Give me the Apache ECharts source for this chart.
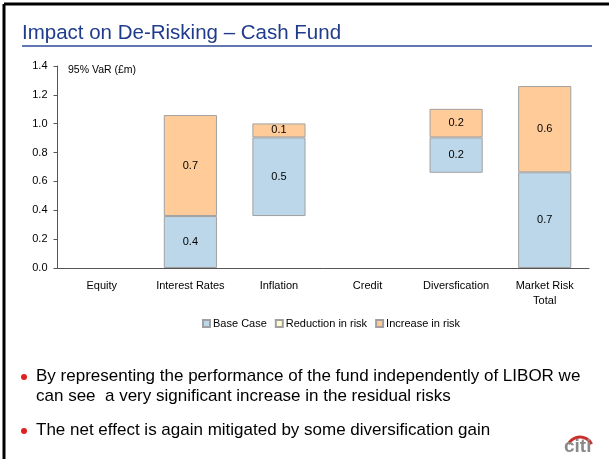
<!DOCTYPE html>
<html><head><meta charset="utf-8">
<script src="https://cdn.jsdelivr.net/npm/echarts@6/dist/echarts.min.js"></script>
<style>html,body{margin:0;padding:0;background:#fff}#c{width:609px;height:459px}</style>
</head><body><div id="c"></div>
<script>
const categories = ['Equity', 'Interest Rates', 'Inflation', 'Credit', 'Diversfication', 'Market Risk\nTotal'];
const offsetValues = [null, 0, 0.36, null, 0.66, 0];
const baseCase = [null, 0.36, 0.545, null, 0.245, 0.663];
const reduction = [null, null, null, null, null, null];
const increase = [null, 0.70, 0.097, null, 0.198, 0.598];
const yTicks = [0, 0.2, 0.4, 0.6, 0.8, 1.0, 1.2, 1.4];
const titleText = 'Impact on De-Risking \u2013 Cash Fund';
const bullets = [
  ['By representing the performance of the fund independently of LIBOR we', 'can see  a very significant increase in the residual risks'],
  ['The net effect is again mitigated by some diversification gain']
];

const FONT = '"Liberation Sans", Arial, sans-serif';
const chart = echarts.init(document.getElementById('c'), null, {renderer: 'canvas'});
const lbl = {show: true, position: 'inside', color: '#000', fontSize: 11, fontFamily: FONT,
  formatter: p => (p.value == null ? '' : Number(p.value).toFixed(1))};
const border = {borderColor: '#a0a0a0', borderWidth: 1};

const graphics = [
  {type: 'line', shape: {x1: 4, y1: 4, x2: 609, y2: 4}, style: {stroke: '#000', lineWidth: 3}},
  {type: 'line', shape: {x1: 4, y1: 4, x2: 4, y2: 459}, style: {stroke: '#000', lineWidth: 3}},
  {type: 'text', left: 22, top: 23, style: {text: titleText, fill: '#1f3c8c', font: '20.5px ' + FONT}},
  {type: 'line', shape: {x1: 22, y1: 46, x2: 592, y2: 46}, style: {stroke: '#2b4a96', lineWidth: 1.6}},
  {type: 'text', left: 68, top: 65, style: {text: '95% VaR (\u00a3m)', fill: '#000', font: '10.5px ' + FONT}}
];
let by = 368;
bullets.forEach((lines, i) => {
  graphics.push({type: 'circle', shape: {cx: 24, cy: by + 9, r: 3}, style: {fill: '#e02020'}});
  lines.forEach((t, j) => {
    graphics.push({type: 'text', left: 36, top: by + j * 20, style: {text: t, fill: '#000', font: '17px ' + FONT}});
  });
  by += lines.length * 20 + 14;
});
graphics.push({type: 'arc', shape: {cx: 580, cy: 450, r: 13, startAngle: Math.PI * 1.15, endAngle: Math.PI * 1.85}, style: {stroke: '#c8302c', lineWidth: 3, fill: null}});
graphics.push({type: 'text', left: 564, top: 437, style: {text: 'citi', fill: '#8a8a8a', font: 'bold 19px ' + FONT}});

chart.setOption({
  animation: false,
  backgroundColor: '#fff',
  textStyle: {fontFamily: FONT},
  graphic: graphics,
  grid: {left: 57.5, right: 20, top: 66, bottom: 191, containLabel: false},
  legend: {
    data: ['Base Case', 'Reduction in risk', 'Increase in risk'],
    top: 313, left: 197,
    icon: 'rect', itemWidth: 7, itemHeight: 7, itemGap: 8,
    textStyle: {fontSize: 11, color: '#000', fontFamily: FONT, padding: [0, 0, 0, -2]}
  },
  xAxis: {
    type: 'category', data: categories,
    axisLine: {lineStyle: {color: '#555', width: 1}},
    axisTick: {show: false},
    axisLabel: {color: '#000', fontSize: 11, fontFamily: FONT, margin: 10, interval: 0, lineHeight: 15, align: 'center'}
  },
  yAxis: {
    type: 'value', min: 0, max: 1.4, interval: 0.2,
    axisLine: {show: true, lineStyle: {color: '#555', width: 1}},
    axisTick: {show: true, length: 4, lineStyle: {color: '#555'}},
    splitLine: {show: false},
    axisLabel: {color: '#000', fontSize: 11, fontFamily: FONT, margin: 10,
      formatter: v => yTicks.includes(Math.round(v * 10) / 10) ? v.toFixed(1) : ''}
  },
  series: [
    {name: 'offset', type: 'bar', stack: 's', data: offsetValues, barWidth: '60%',
      itemStyle: {color: 'transparent'}, silent: true, label: {show: false}},
    {name: 'Base Case', type: 'bar', stack: 's', data: baseCase,
      itemStyle: Object.assign({color: '#bdd7ea'}, border), label: lbl},
    {name: 'Reduction in risk', type: 'bar', stack: 's', data: reduction,
      itemStyle: Object.assign({color: '#ffffcc'}, border), label: lbl},
    {name: 'Increase in risk', type: 'bar', stack: 's', data: increase,
      itemStyle: Object.assign({color: '#ffcc99'}, border), label: lbl}
  ]
});
</script></body></html>
